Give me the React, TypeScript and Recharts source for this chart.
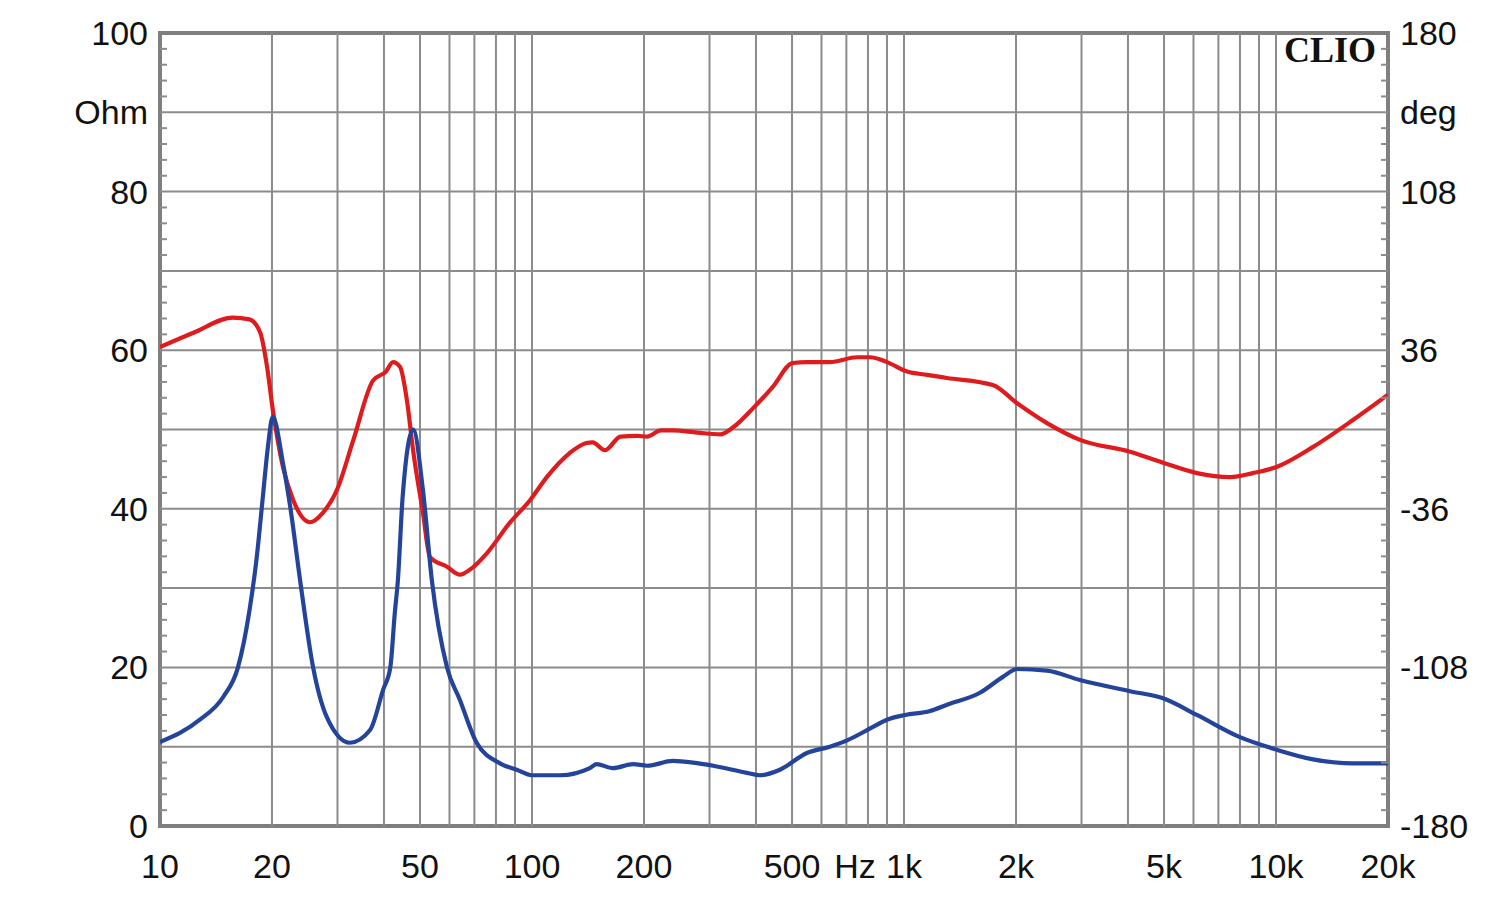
import * as React from "react"
import {
  LineChart,
  Line,
  XAxis,
  YAxis,
  ReferenceLine,
  ReferenceArea
} from "recharts"

// impedance magnitude (blue, left axis, Ohm)
const impFreq = [
  10, 12.8, 14.8, 16.2, 17.4, 18.2, 18.9, 19.5, 20.1, 21.4, 22.4, 23.8, 25.8, 28.1,
  32.4, 36.7, 39.8, 41.6, 42.8, 43.6, 44.9, 47.9, 50.9, 53.8, 59.1, 64, 71, 82, 91,
  100, 119, 143, 149, 165, 187, 204, 239, 271, 307, 378, 410, 464, 548, 632, 703,
  811, 900, 1007, 1175, 1305, 1600, 1845, 2014, 2423, 2972, 4050, 4970, 6130, 8000,
  10070, 12580, 16100, 20000
]
const impOhm = [
  10.6, 13.4, 16.3, 20, 27.2, 33.9, 41.5, 47.8, 51.6, 45.8, 40.2, 31, 20, 13.7,
  10.5, 12.1, 17.2, 20, 27, 31, 41.5, 50, 42.4, 31, 20, 15.9, 10.5, 7.9, 7.1,
  6.4, 6.4, 7.3, 7.8, 7.3, 7.8, 7.6, 8.2, 8.0, 7.6, 6.7, 6.4, 7.1, 9.2, 10.0, 10.8,
  12.3, 13.4, 14.0, 14.5, 15.3, 16.8, 18.8, 19.8, 19.6, 18.4, 17.0, 16.1, 14.0, 11.2,
  9.6, 8.4, 7.9, 7.9
]

// impedance phase (red, right axis, degrees)
const phaseFreq = [
  10, 12.3, 15.7, 17.4, 18.6, 19.4, 20.1, 21.4, 22.8, 25.3, 27.4, 29.9, 33.1, 37.4,
  40.5, 42.3, 44.2, 46.1, 47.9, 50.9, 53.2, 59.1, 64, 68, 75.6, 87, 98.9, 109.6, 126,
  140, 145.6, 157, 173, 191.5, 204, 222, 239, 278, 321, 348, 393, 444, 502, 548, 632,
  748, 811, 900, 1019, 1154, 1305, 1733, 2014, 2423, 2972, 4050, 4970, 6130, 7530,
  8670, 10070, 12580, 16100, 20000
]
const phaseDeg = [
  37.4, 43.9, 50.8, 50.0, 43.9, 28.4, 9.0, -16.9, -32.0, -42.1, -37.8, -27.4, -4.7, 22.3,
  26.3, 30.6, 28.4, 13.3, -9.4, -37.8, -58.0, -62.3, -65.9, -63.7, -56.2, -42.5, -32.0, -21.6, -10.8,
  -6.1, -5.8, -9.4, -3.2, -2.9, -3.2, -0.4, -0.4, -1.4, -2.2, 1.1, 9.7, 19.4, 30.2, 30.6, 30.6,
  32.8, 32.8, 30.6, 26.3, 24.8, 23.4, 20.2, 11.9, 2.9, -4.7, -10.1, -15.1, -19.8, -21.6,
  -19.8, -16.9, -7.9, 4.3, 15.8
]

const xTicks = [10, 20, 50, 100, 200, 500, 1000, 2000, 5000, 10000, 20000]
const xTickLabels = ["10", "20", "50", "100", "200", "500", "1k", "2k", "5k", "10k", "20k"]
const gridFreqs = [
  20, 30, 40, 50, 60, 70, 80, 90, 100, 200, 300, 400, 500, 600, 700, 800, 900,
  1000, 2000, 3000, 4000, 5000, 6000, 7000, 8000, 9000, 10000
]
const gridOhm = [10, 20, 30, 40, 50, 60, 70, 80, 90]
const leftLabels = [0, 20, 40, 60, 80, 100]
const rightLabels = [-180, -108, -36, 36, 108, 180]

const impData = impFreq.map((f, i) => ({ f, v: impOhm[i] }))
const phaseData = phaseFreq.map((f, i) => ({ f, v: phaseDeg[i] }))

// minor tick every 2 Ohm / 7.2 deg
const leftTicks = Array.from({ length: 51 }, (_, i) => i * 2)
const rightTicks = Array.from({ length: 51 }, (_, i) => Number((-180 + i * 7.2).toFixed(1)))

const FONT = "'Liberation Sans', Arial, sans-serif"
const GRID = "#8c8c8c"
const RED = "#e01b1d"
const BLUE = "#24449c"

const LeftTick = (props: any) => {
  const { x, y, payload } = props
  const v = payload.value
  if (v === 90) {
    return <text x={x} y={y} dy={12} textAnchor="end" fontSize={34} fontFamily={FONT} fill="#111">Ohm</text>
  }
  if (leftLabels.includes(v)) {
    return <text x={x} y={y} dy={12} textAnchor="end" fontSize={34} fontFamily={FONT} fill="#111">{v}</text>
  }
  if (v % 10 !== 0) {
    return <line x1={x + 12} x2={x + 19} y1={y} y2={y} stroke={GRID} strokeWidth={2} />
  }
  return <g />
}

const RightTick = (props: any) => {
  const { x, y, index } = props
  if (index === 45) {
    return <text x={x} y={y} dy={12} textAnchor="start" fontSize={34} fontFamily={FONT} fill="#111">deg</text>
  }
  if (index % 10 === 0) {
    return <text x={x} y={y} dy={12} textAnchor="start" fontSize={34} fontFamily={FONT} fill="#111">{rightLabels[index / 10]}</text>
  }
  if (index % 5 !== 0) {
    return <line x1={x - 12} x2={x - 19} y1={y} y2={y} stroke={GRID} strokeWidth={2} />
  }
  return <g />
}

const BottomTick = (props: any) => {
  const { x, y, payload } = props
  const idx = xTicks.indexOf(payload.value)
  const label = xTickLabels[idx]
  return (
    <g>
      <text x={x} y={y} dy={52} textAnchor="middle" fontSize={34} fontFamily={FONT} fill="#111">{label}</text>
      {payload.value === 500 && (
        <text x={x + 63} y={y} dy={52} textAnchor="middle" fontSize={34} fontFamily={FONT} fill="#111">Hz</text>
      )}
    </g>
  )
}

export default function App() {
  return (
    <div style={{ position: "absolute", left: 0, top: 0, width: 1500, height: 903, background: "#fff" }}>
      <LineChart width={1500} height={903} margin={{ top: 33, right: 32, left: 100, bottom: 37 }}>
        <XAxis
          dataKey="f"
          type="number"
          scale="log"
          domain={[10, 20000]}
          ticks={xTicks}
          allowDataOverflow
          axisLine={false}
          tickLine={false}
          tickSize={0}
          tickMargin={0}
          height={40}
          tick={<BottomTick />}
        />
        <YAxis
          yAxisId="left"
          domain={[0, 100]}
          ticks={leftTicks}
          interval={0}
          axisLine={false}
          tickLine={false}
          tickSize={0}
          tickMargin={12}
          width={60}
          tick={<LeftTick />}
        />
        <YAxis
          yAxisId="right"
          orientation="right"
          domain={[-180, 180]}
          ticks={rightTicks}
          interval={0}
          axisLine={false}
          tickLine={false}
          tickSize={0}
          tickMargin={12}
          width={80}
          tick={<RightTick />}
        />

        {gridOhm.map(v => (
          <ReferenceLine key={"h" + v} yAxisId="left" y={v} stroke={GRID} strokeWidth={2} />
        ))}
        {gridFreqs.map(f => (
          <ReferenceLine key={"v" + f} yAxisId="left" x={f} stroke={GRID} strokeWidth={2} />
        ))}

        <Line
          yAxisId="right"
          data={phaseData}
          dataKey="v"
          type="monotone"
          stroke={RED}
          strokeWidth={4.2}
          dot={false}
          isAnimationActive={false}
        />
        <Line
          yAxisId="left"
          data={impData}
          dataKey="v"
          type="monotone"
          stroke={BLUE}
          strokeWidth={4.2}
          dot={false}
          isAnimationActive={false}
        />

        <ReferenceArea
          yAxisId="left"
          x1={10}
          x2={20000}
          y1={0}
          y2={100}
          fill="none"
          stroke="#7f7f7f"
          strokeWidth={4}
        />
      </LineChart>
      <div
        style={{
          position: "absolute",
          left: 1284,
          top: 32,
          fontFamily: "'Liberation Serif', 'DejaVu Serif', serif",
          fontWeight: "bold",
          fontSize: 36,
          lineHeight: "36px",
          color: "#111"
        }}
      >
        CLIO
      </div>
    </div>
  )
}
